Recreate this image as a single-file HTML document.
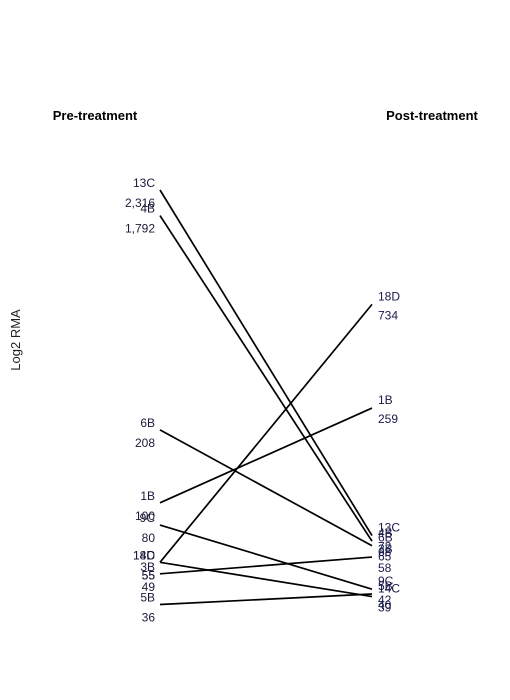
<!DOCTYPE html>
<html><head><meta charset="utf-8"><style>
body{margin:0;background:#fff;}
svg{display:block;font-family:"Liberation Sans",Arial,sans-serif;}
</style></head><body>
<svg id="chart" width="510" height="700">
<text x="95" y="120" text-anchor="middle" font-size="13" font-weight="bold">Pre-treatment</text>
<text x="432" y="120" text-anchor="middle" font-size="13" font-weight="bold">Post-treatment</text>
<text transform="translate(20,340) rotate(-90)" text-anchor="middle" font-size="13" fill="#222">Log2 RMA</text>
<g id="marks"></g>
</svg>
<script>
const patients = ["13C","4B","6B","1B","9C","18D","14C","3B","5B"];
const preValues = [2316,1792,208,100,80,55,55,49,36];
const postValues = [72,68,65,259,42,734,39,58,40];
const X_LEFT=160, X_RIGHT=372;
const REF=Math.log2(2316), Y_REF=190, PX_PER_UNIT=69;
function y(v){return Y_REF+(REF-Math.log2(v))*PX_PER_UNIT;}
function fmt(v){return v.toLocaleString("en-US");}
const g=document.getElementById("marks");
const NS="http://www.w3.org/2000/svg";
function txt(x,yy,s,anchor,fill){const t=document.createElementNS(NS,"text");t.setAttribute("x",x);t.setAttribute("y",yy);t.setAttribute("text-anchor",anchor);t.setAttribute("font-size","12");t.setAttribute("fill",fill);t.textContent=s;g.appendChild(t);return t;}
patients.forEach((p,i)=>{
  const y1=y(preValues[i]), y2=y(postValues[i]);
  const l=document.createElementNS(NS,"line");
  l.setAttribute("x1",X_LEFT);l.setAttribute("y1",y1);l.setAttribute("x2",X_RIGHT);l.setAttribute("y2",y2);
  l.setAttribute("stroke","#000");l.setAttribute("stroke-width","1.7");
  
  
  g.appendChild(l);
  let t=txt(155,y1-3,p,"end","#1a1a3a");
  
  
  t=txt(155,y1+17,fmt(preValues[i]),"end","#1a1a3a");
  
  
  t=txt(378,y2-4,p,"start","#1a1a4a");
  
  
  t=txt(378,y2+15,fmt(postValues[i]),"start","#1a1a4a");
  
  
});
</script>
</body></html>
